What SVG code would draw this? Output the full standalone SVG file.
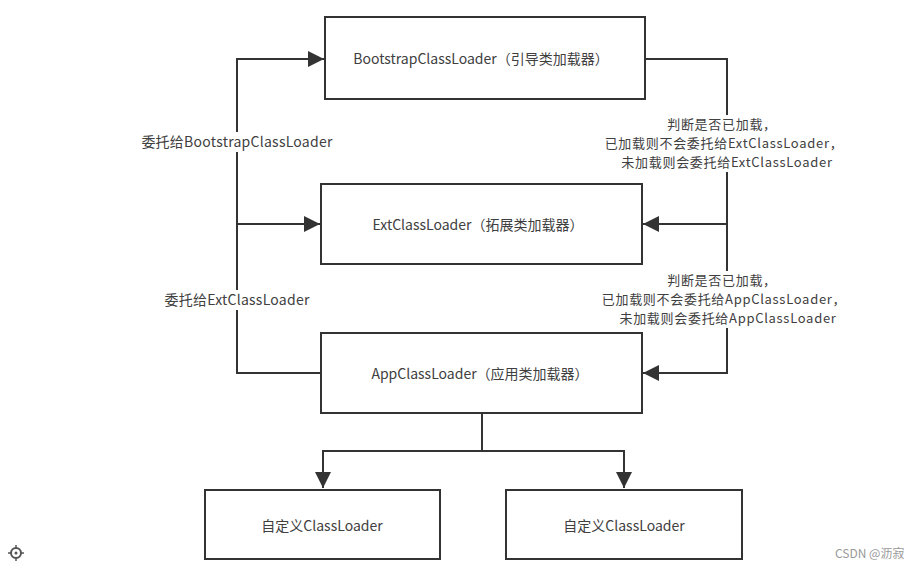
<svg xmlns="http://www.w3.org/2000/svg" width="920" height="570" viewBox="0 0 920 570">
<style>
.box{fill:#fff;stroke:#333;stroke-width:2}
.t{font-family:"Noto Sans CJK SC","Microsoft YaHei",sans-serif;font-size:14px;fill:#404040;text-anchor:middle}
.lbl{font-family:"Noto Sans CJK SC",sans-serif;font-size:14px;fill:#404040;text-anchor:middle;letter-spacing:0.25px}
.ml{font-family:"Noto Sans CJK SC",sans-serif;font-size:13px;fill:#404040;text-anchor:middle;letter-spacing:0.7px}
.c{fill:none;stroke:#333;stroke-width:2}
</style>
<defs>
<marker id="ah" viewBox="0 0 10 10" refX="10" refY="5" markerWidth="16" markerHeight="16" markerUnits="userSpaceOnUse" orient="auto">
<path d="M0,0 L10,5 L0,10 Z" fill="#333"/>
</marker>
</defs>
<rect width="920" height="570" fill="#fff"/>
<g id="connectors">
<path class="c" d="M321,373 H237 V59 H324" marker-end="url(#ah)"/>
<path class="c" d="M237,224 H320" marker-end="url(#ah)"/>
<path class="c" d="M646,59 H727 V373 H643" marker-end="url(#ah)"/>
<path class="c" d="M727,224 H643" marker-end="url(#ah)"/>
<path class="c" d="M482,413 V451 H323 V488" marker-end="url(#ah)"/>
<path class="c" d="M482,451 H624 V488" marker-end="url(#ah)"/>
</g>
<g id="labels">
<rect x="138" y="132" width="200" height="20" fill="#fff"/>
<text class="lbl" x="237" y="147">委托给BootstrapClassLoader</text>
<rect x="162" y="290" width="152" height="20" fill="#fff"/>
<text class="lbl" x="237" y="305">委托给ExtClassLoader</text>
<rect x="600" y="115" width="250" height="57" fill="#fff"/>
<text class="ml"><tspan x="722" y="129">判断是否已加载，</tspan><tspan x="724" y="148">已加载则不会委托给ExtClassLoader，</tspan><tspan x="727" y="167">未加载则会委托给ExtClassLoader</tspan></text>
<rect x="596" y="271" width="254" height="57" fill="#fff"/>
<text class="ml"><tspan x="722" y="285">判断是否已加载，</tspan><tspan x="724" y="304">已加载则不会委托给AppClassLoader，</tspan><tspan x="728" y="323">未加载则会委托给AppClassLoader</tspan></text>
</g>
<g id="bootstrap">
<rect class="box" x="325" y="17" width="320" height="82"/>
<text class="t" x="481" y="64">BootstrapClassLoader（引导类加载器）</text>
</g>
<g id="ext">
<rect class="box" x="321" y="184" width="321" height="80"/>
<text class="t" x="478" y="230">ExtClassLoader（拓展类加载器）</text>
</g>
<g id="app">
<rect class="box" x="321" y="333" width="321" height="80"/>
<text class="t" x="480" y="379">AppClassLoader（应用类加载器）</text>
</g>
<g id="custom1">
<rect class="box" x="205" y="490" width="235" height="69"/>
<text class="t" x="322" y="531">自定义ClassLoader</text>
</g>
<g id="custom2">
<rect class="box" x="506" y="490" width="236" height="69"/>
<text class="t" x="624" y="531">自定义ClassLoader</text>
</g>
<g id="watermark">
<text x="835" y="558" style="font-family:'Noto Sans CJK SC',sans-serif;font-size:12px;fill:#999">CSDN @沥寂</text>
<circle cx="16" cy="553" r="5" fill="none" stroke="#555" stroke-width="2"/>
<circle cx="16" cy="553" r="1.5" fill="#555"/>
<path d="M16,545 V549 M16,557 V561 M8,553 H12 M20,553 H24" stroke="#555" stroke-width="1.5"/>
</g>
</svg>
